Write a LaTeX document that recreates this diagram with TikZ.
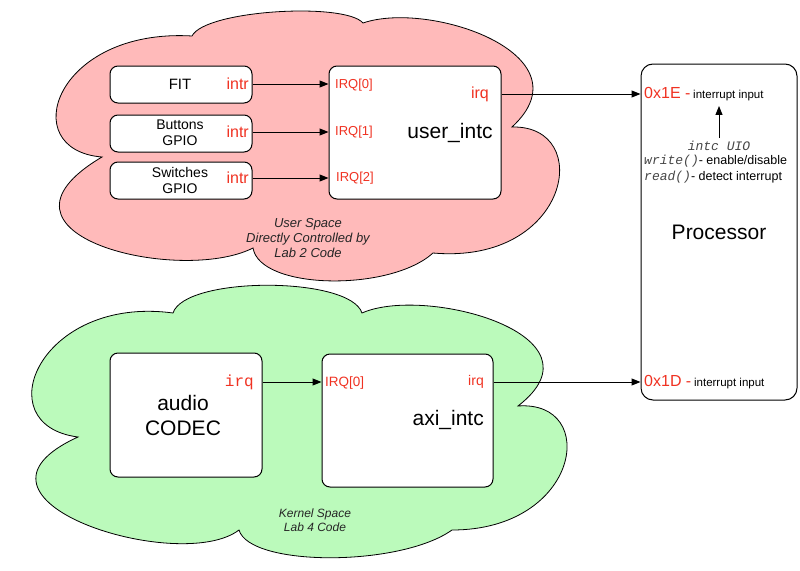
\documentclass[tikz,border=0pt]{standalone}
\usepackage{fontspec}
\setmainfont{Liberation Sans}
\setmonofont{Liberation Mono}
\usetikzlibrary{arrows.meta}
\definecolor{irqred}{RGB}{240,50,34}
\definecolor{pinkfill}{RGB}{255,186,186}
\definecolor{greenfill}{RGB}{187,250,187}
\definecolor{monogray}{RGB}{70,70,70}
\newcommand{\fs}[1]{\fontsize{#1}{#1}\selectfont}
\tikzset{
  cloudshape/.style={draw=black, line width=0.8pt},
  blockbox/.style={draw=black, line width=1pt, rounded corners=8pt, fill=white, inner sep=0pt},
  lbl/.style={inner sep=0pt, text=black},
  redlbl/.style={inner sep=0pt, text=irqred},
  arr/.style={-{Triangle[length=9pt,width=7pt]}, line width=1pt},
}
\begin{document}
\begin{tikzpicture}[x=1pt,y=-1pt]
\useasboundingbox[fill=white] (0,0) rectangle (800,570);

% pink cloud (user space)
\path[cloudshape, fill=pinkfill]
  (102,157) .. controls (15,150) and (55,28) .. (192,36)
  .. controls (205,10) and (345,2) .. (363,23)
  .. controls (430,0) and (590,55) .. (512,127)
  .. controls (595,125) and (570,265) .. (433,253)
  .. controls (390,292) and (260,290) .. (253,248)
  .. controls (180,285) and (-30,235) .. (102,157) -- cycle;

% green cloud (kernel space)
\path[cloudshape, fill=greenfill]
  (78,437) .. controls (-15,425) and (40,295) .. (173,313)
  .. controls (185,276) and (350,276) .. (362,313)
  .. controls (425,285) and (610,335) .. (518,406)
  .. controls (600,400) and (580,530) .. (452,530)
  .. controls (400,567) and (250,567) .. (239,530)
  .. controls (180,575) and (-60,500) .. (78,437) -- cycle;

% boxes
\node[blockbox, minimum width=142pt, minimum height=37pt] (fit) at (181,84.5) {};
\node[blockbox, minimum width=142pt, minimum height=37pt] (btn) at (181,133.5) {};
\node[blockbox, minimum width=142pt, minimum height=37pt] (sw) at (181,180.5) {};
\node[blockbox, minimum width=172pt, minimum height=133pt] (uintc) at (415,132.5) {};
\node[blockbox, minimum width=152pt, minimum height=124pt] (audio) at (186,415) {};
\node[blockbox, minimum width=171pt, minimum height=133pt] (axi) at (407.5,420.5) {};
\node[blockbox, rounded corners=12pt, minimum width=156pt, minimum height=336pt] (proc) at (719,232) {};

% box texts
\node[lbl, font=\fs{15}] (fittxt) at (180,84) {FIT};
\node[lbl, font=\fs{14}, align=center] (btntxt) at (180,132.5) {Buttons\\[2pt]GPIO};
\node[lbl, font=\fs{14}, align=center] (swtxt) at (180,180) {Switches\\[2pt]GPIO};
\node[lbl, font=\fs{21}] (uintctxt) at (450,133) {user\_intc};
\node[lbl, font=\fs{21}, align=center] (audiotxt) at (183,415.5) {audio\\[4pt]CODEC};
\node[lbl, font=\fs{21}, anchor=east] (axitxt) at (484,420) {axi\_intc};
\node[lbl, font=\fs{21}] (proctxt) at (719,232) {Processor};

% red port labels
\node[redlbl, font=\fs{16}, anchor=east] (fitintr) at (249,84) {intr};
\node[redlbl, font=\fs{16}, anchor=east] (btnintr) at (249,132) {intr};
\node[redlbl, font=\fs{16}, anchor=east] (swintr) at (249,178) {intr};
\node[redlbl, font=\fs{13}, anchor=west] (irq0) at (335,85) {IRQ[0]};
\node[redlbl, font=\fs{13}, anchor=west] (irq1) at (335,132) {IRQ[1]};
\node[redlbl, font=\fs{13}, anchor=west] (irq2) at (336,178) {IRQ[2]};
\node[redlbl, font=\fs{16}, anchor=east] (uirq) at (489,94) {irq};
\node[redlbl, font={\ttfamily\fs{16}}, anchor=east] (airq) at (254,382) {irq};
\node[redlbl, font=\fs{13.5}, anchor=west] (axirq0) at (325,383) {IRQ[0]};
\node[redlbl, font=\fs{14}, anchor=east] (axirq) at (484,382) {irq};

% processor texts
\node[lbl, anchor=west] (x1e) at (644,94) {{\color{irqred}\fs{16}0x1E -} {\fs{11.5}interrupt input}};
\node[lbl, font={\ttfamily\itshape\fs{13}}, text=monogray] (uio) at (719,146) {intc UIO};
\node[lbl, anchor=west] (wr) at (644,161) {{\color{monogray}\ttfamily\itshape\fs{13}write()}{\fs{12.5}- enable/disable}};
\node[lbl, anchor=west] (rd) at (644,177) {{\color{monogray}\ttfamily\itshape\fs{13}read()}{\fs{12.5}- detect interrupt}};
\node[lbl, anchor=west] (x1d) at (644,382) {{\color{irqred}\fs{16}0x1D -} {\fs{11.5}interrupt input}};

% cloud captions
\node[lbl, font={\itshape\fontsize{13}{15}\selectfont}, align=center, text=black!85] (ucap) at (308,238) {User Space\\Directly Controlled by\\Lab 2 Code};
\node[lbl, font={\itshape\fontsize{12}{14}\selectfont}, align=center, text=black!85] (kcap) at (315,520) {Kernel Space\\Lab 4 Code};

% connectors
\draw[arr] (fit.east |- fitintr) -- (uintc.west |- fitintr);
\draw[arr] (btn.east |- btnintr) -- (uintc.west |- btnintr);
\draw[arr] (sw.east |- swintr) -- (uintc.west |- swintr);
\draw[arr] (uintc.east |- uirq) -- (proc.west |- uirq);
\draw[arr] (audio.east |- airq) -- (axi.west |- airq);
\draw[arr] (axi.east |- axirq) -- (proc.west |- axirq);
\draw[arr, shorten >=5pt] ([yshift=3pt]uio.north) -- (uio.north |- x1e.south);
\end{tikzpicture}
\end{document}
